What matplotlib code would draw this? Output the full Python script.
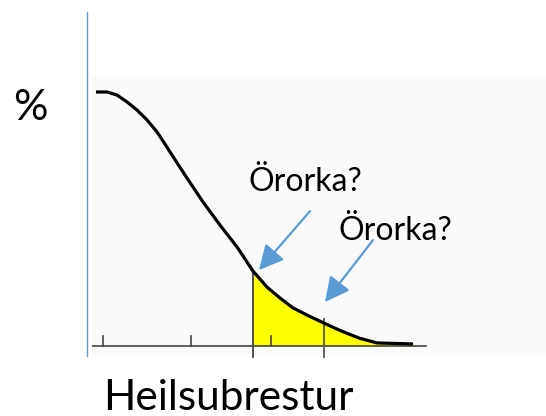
import numpy as np
import matplotlib
matplotlib.use("Agg")
import matplotlib.pyplot as plt

# curve (x in arbitrary units, y in % of peak)
curve_x = [0.0, 1.1, 2.1, 3.1, 4.1, 5.1, 6.1, 7.1, 7.4, 9.1, 10.7, 12.4, 14.1, 15.7,
           17.1, 18.4, 19.7, 21.4, 22.7, 23.9, 25.1, 26.4, 28.1, 31.7]
curve_y = [100, 100, 98.8, 96.1, 92.9, 89.0, 84.3, 78.3, 76.4, 66.1, 56.7, 47.6, 39.0, 29.5,
           23.2, 18.9, 15.0, 11.6, 9.2, 7.0, 5.0, 3.0, 1.2, 0.8]
tick_x = [0.7, 9.5, 17.5]
cut_x = [15.7, 22.8]
label_text = "Örorka?"
x_label = "Heilsubrestur"
y_label = "%"

W, H = 546, 416
fig = plt.figure(figsize=(W / 100, H / 100), dpi=100)
ax = fig.add_axes([92 / W, (H - 356) / H, (W - 92) / W, (356 - 76) / H])
ax.set_facecolor("#fafafa")
for s in ax.spines.values():
    s.set_visible(False)
ax.set_xticks([])
ax.set_yticks([])
ax.set_xlim(-0.4, 45.0)
ax.set_ylim(-3.94, 106.3)

cx = np.array(curve_x)
cy = np.array(curve_y)

# yellow tail
start = cut_x[0]
fx = np.concatenate([[start], cx[cx > start]])
fy = np.interp(fx, cx, cy)
ax.fill_between(fx, 0, fy, color="#ffff00", lw=0, zorder=1)

# x axis line + small ticks
ax.plot([-0.4, 33.0], [0, 0], color="#444444", lw=1.2, zorder=2)
for t in tick_x:
    ax.plot([t, t], [0, 3.9], color="#444444", lw=1.2, zorder=2)

# cut lines
ax.plot([cut_x[0], cut_x[0]], [-4.3, np.interp(cut_x[0], cx, cy)],
        color="#444444", lw=1.3, zorder=3, clip_on=False)
ax.plot([cut_x[1], cut_x[1]], [-4.3, 10.6],
        color="#555555", lw=1.3, zorder=3, clip_on=False)

ax.plot(cx, cy, color="black", lw=2.3, zorder=4, solid_capstyle="butt",
        solid_joinstyle="round")

# blue y axis line
ax.plot([-0.9, -0.9], [-3.94, 131.5], color="#5b9bd5", lw=1.0, clip_on=False)

arrow = dict(arrowstyle="-|>,head_length=0.75,head_width=0.38", color="#5b9bd5",
             lw=1.6, mutation_scale=20, shrinkA=0, shrinkB=0)
ax.annotate("", xy=(16.3, 29.9), xytext=(21.4, 53.1), arrowprops=arrow)
ax.annotate("", xy=(22.9, 17.3), xytext=(27.7, 41.7), arrowprops=arrow)

font = "Lato"
fig.text(249 / W, 1 - 191 / H, label_text, fontsize=23, family=font, va="baseline")
fig.text(339 / W, 1 - 240 / H, label_text, fontsize=23, family=font, va="baseline")
fig.text(13 / W, 1 - 120 / H, y_label, fontsize=31, family=font, va="baseline")
fig.text(103 / W, 1 - 410 / H, x_label, fontsize=30.5, family=font, va="baseline")

fig.savefig("out.png", dpi=100)
